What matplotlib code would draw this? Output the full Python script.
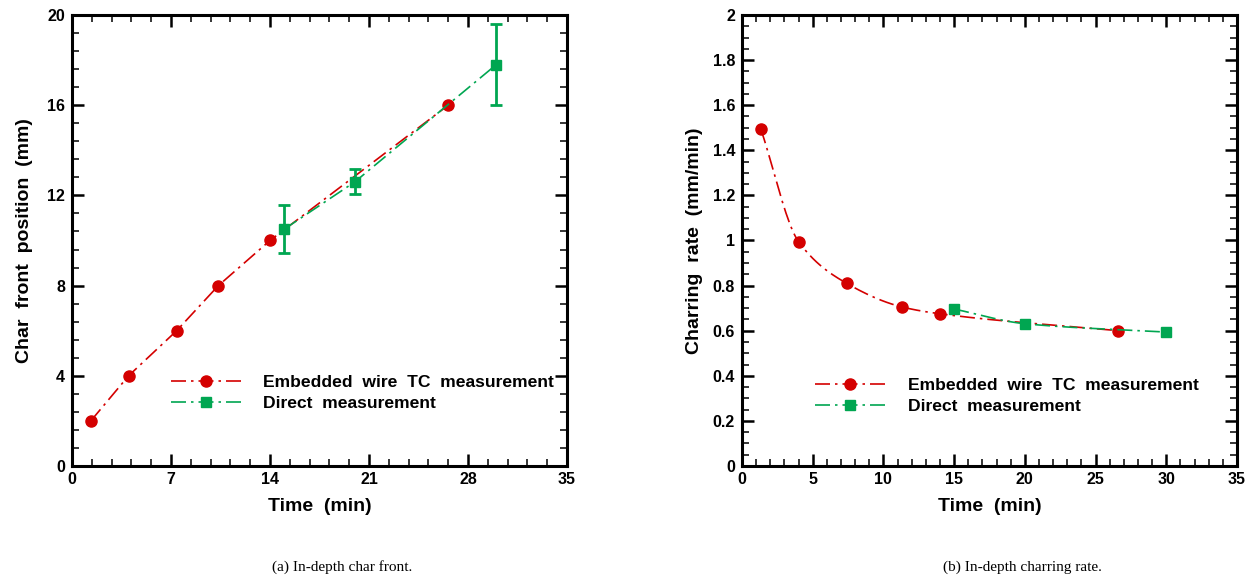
import numpy as np
import matplotlib
matplotlib.use("Agg")
import matplotlib.pyplot as plt
from matplotlib.ticker import MultipleLocator, FuncFormatter
from matplotlib.lines import Line2D

# ---- data ----
tc_time_a = [1.33, 4.0, 7.4, 10.35, 14.0, 26.6]
tc_front = [2.0, 4.0, 6.0, 8.0, 10.0, 16.0]
dir_time_a = [15.0, 20.0, 30.0]
dir_front = [10.5, 12.6, 17.8]
dir_front_err = [1.06, 0.55, 1.8]

tc_time_b = [1.33, 4.0, 7.4, 11.33, 14.0, 26.6]
tc_rate = [1.495, 0.995, 0.81, 0.705, 0.675, 0.60]
dir_time_b = [15.0, 20.0, 30.0]
dir_rate = [0.696, 0.631, 0.594]

legend_labels = ['Embedded  wire  TC  measurement', 'Direct  measurement']

RED = "#D40000"
GREEN = "#00A651"
LS = (0, (9, 3, 1.5, 3))

plt.rcParams['font.family'] = ['Liberation Sans', 'DejaVu Sans']


def smooth(x, y, n=200):
    """Monotone cubic (Fritsch-Carlson) curve through the points, for drawing."""
    x = np.asarray(x, float); y = np.asarray(y, float)
    h = np.diff(x); d = np.diff(y) / h
    m = np.zeros_like(y)
    m[0], m[-1] = d[0], d[-1]
    for i in range(1, len(x) - 1):
        if d[i - 1] * d[i] <= 0:
            m[i] = 0
        else:
            w1 = 2 * h[i] + h[i - 1]; w2 = h[i] + 2 * h[i - 1]
            m[i] = (w1 + w2) / (w1 / d[i - 1] + w2 / d[i])
    xs = np.linspace(x[0], x[-1], n)
    idx = np.clip(np.searchsorted(x, xs) - 1, 0, len(x) - 2)
    t = (xs - x[idx]) / h[idx]
    h00 = 2 * t**3 - 3 * t**2 + 1; h10 = t**3 - 2 * t**2 + t
    h01 = -2 * t**3 + 3 * t**2; h11 = t**3 - t**2
    ys = h00 * y[idx] + h10 * h[idx] * m[idx] + h01 * y[idx + 1] + h11 * h[idx] * m[idx + 1]
    return xs, ys


def style(ax, xmaj, xmin, ymaj, ymin):
    ax.xaxis.set_major_locator(MultipleLocator(xmaj))
    ax.xaxis.set_minor_locator(MultipleLocator(xmin))
    ax.yaxis.set_major_locator(MultipleLocator(ymaj))
    ax.yaxis.set_minor_locator(MultipleLocator(ymin))
    ax.tick_params(which='both', direction='in', top=True, right=True)
    ax.tick_params(which='major', length=8.5, width=1.8, labelsize=11.5)
    ax.tick_params(axis='x', which='major', pad=4)
    ax.tick_params(axis='y', which='major', pad=5)
    ax.tick_params(which='minor', length=5, width=1.1)
    for s in ax.spines.values():
        s.set_linewidth(2.2)
    for lab in ax.get_xticklabels() + ax.get_yticklabels():
        lab.set_fontweight('bold')


def add_legend(ax, anchor):
    h1 = Line2D([], [], color=RED, ls=LS, lw=1.2, marker='o', ms=8)
    h2 = Line2D([], [], color=GREEN, ls=LS, lw=1.2, marker='s', ms=7)
    ax.legend([h1, h2], legend_labels, loc='lower left', bbox_to_anchor=anchor,
              frameon=False, handlelength=4.0, handletextpad=1.3, labelspacing=0.3,
              borderaxespad=0, prop={'weight': 'bold', 'size': 12.6})


fig = plt.figure(figsize=(12.48, 5.8), dpi=100)
axA = fig.add_axes([72 / 1248, 114 / 580, 495 / 1248, 451 / 580])
axB = fig.add_axes([742 / 1248, 114 / 580, 495 / 1248, 451 / 580])

# ---- panel a ----
axA.plot(tc_time_a, tc_front, color=RED, ls=LS, lw=1.2, marker='o', ms=8)
axA.errorbar(dir_time_a, dir_front, yerr=dir_front_err, color=GREEN, ls=LS, lw=1.2,
             marker='s', ms=7, elinewidth=2, capsize=4, capthick=2)
axA.set_xlim(0, 35); axA.set_ylim(0, 20)
style(axA, 7, 1.4, 4, 0.8)
axA.set_xlabel('Time  (min)', fontsize=14, fontweight='bold', labelpad=8)
axA.set_ylabel('Char  front  position  (mm)', fontsize=14, fontweight='bold', labelpad=10)
add_legend(axA, (0.185, 0.107))

# ---- panel b ----
xs, ys = smooth(tc_time_b, tc_rate)
axB.plot(xs, ys, color=RED, ls=LS, lw=1.2)
axB.plot(tc_time_b, tc_rate, color=RED, ls='none', marker='o', ms=8)
xs2, ys2 = smooth(dir_time_b, dir_rate)
axB.plot(xs2, ys2, color=GREEN, ls=LS, lw=1.2)
axB.plot(dir_time_b, dir_rate, color=GREEN, ls='none', marker='s', ms=7)
add_legend(axB, (0.133, 0.10))
axB.set_xlim(0, 35); axB.set_ylim(0, 2)
style(axB, 5, 1, 0.2, 0.05)
axB.yaxis.set_major_formatter(FuncFormatter(lambda v, p: f"{v:g}"))
axB.set_xlabel('Time  (min)', fontsize=14, fontweight='bold', labelpad=8)
axB.set_ylabel('Charring  rate  (mm/min)', fontsize=14, fontweight='bold', labelpad=7)

# ---- captions ----
fig.text(342 / 1248, 1 - 567 / 580, '(a) In-depth char front.', ha='center', va='center',
         family='Liberation Serif', fontsize=11)
fig.text(1022 / 1248, 1 - 567 / 580, '(b) In-depth charring rate.', ha='center', va='center',
         family='Liberation Serif', fontsize=11)

fig.savefig('out.png', dpi=100)
